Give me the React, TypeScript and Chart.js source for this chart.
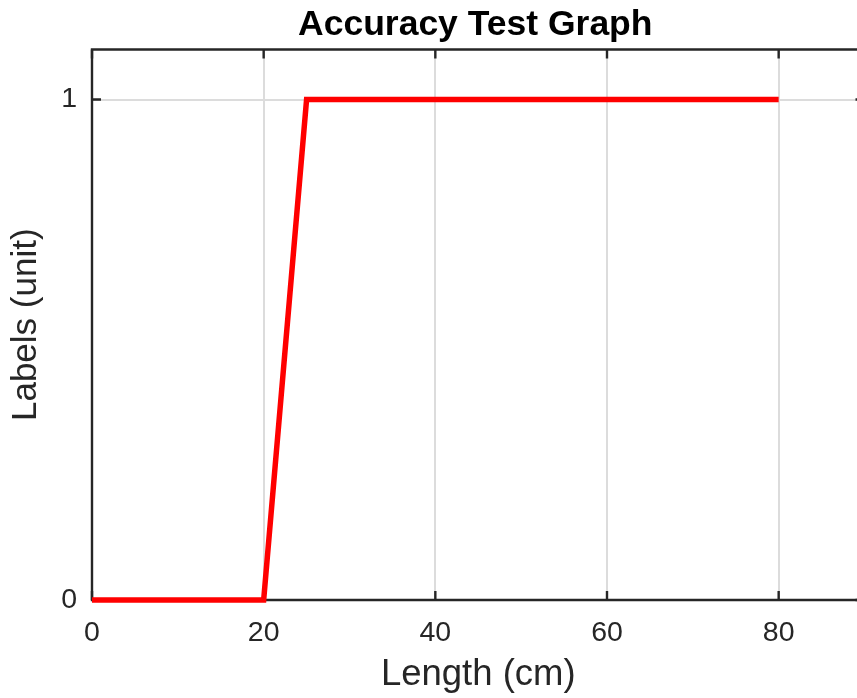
import React, { useEffect, useRef } from "react";
import { Chart, registerables } from "chart.js";

Chart.register(...registerables);

const titleText = "Accuracy Test Graph";
const xLabel = "Length (cm)";
const yLabel = "Labels (unit)";
const xValues = [0, 20, 25, 80];
const yValues = [0, 0, 1, 1];
const xTicks = [0, 20, 40, 60, 80];
const yTicks = [0, 1];
const xRange = [0, 90];
const yRange = [0, 1.1];

const FONT = "'Liberation Sans', Arial, Helvetica, sans-serif";
const TEXT = "#262626";
const AXIS = "#262626";

const boxPlugin = {
  id: "boxPlugin",
  beforeDatasetsDraw(chart: any) {
    const { ctx, chartArea } = chart;
    const { left, right, top, bottom } = chartArea;
    const xs = chart.scales.x;
    const ys = chart.scales.y;
    const tl = 9;
    ctx.save();
    ctx.strokeStyle = AXIS;
    ctx.lineWidth = 2.4;
    ctx.lineCap = "butt";
    ctx.beginPath();
    for (const v of xTicks) {
      const p = xs.getPixelForValue(v);
      ctx.moveTo(p, bottom);
      ctx.lineTo(p, bottom - tl);
      ctx.moveTo(p, top);
      ctx.lineTo(p, top + tl);
    }
    for (const v of yTicks) {
      const p = ys.getPixelForValue(v);
      ctx.moveTo(left, p);
      ctx.lineTo(left + tl, p);
      ctx.moveTo(right, p);
      ctx.lineTo(right - tl, p);
    }
    ctx.stroke();
    ctx.beginPath();
    ctx.lineJoin = "miter";
    ctx.rect(left, top, right - left, bottom - top);
    ctx.stroke();
    ctx.restore();
  },
  afterDraw(chart: any) {
    const { ctx, chartArea } = chart;
    ctx.save();
    ctx.fillStyle = "#000000";
    ctx.font = `bold 35.5px ${FONT}`;
    ctx.textAlign = "center";
    ctx.textBaseline = "alphabetic";
    ctx.fillText(titleText, (chartArea.left + chartArea.right) / 2 - 3, 35);
    ctx.restore();
  },
};

export default function App() {
  const ref = useRef<HTMLCanvasElement | null>(null);
  useEffect(() => {
    if (!ref.current) return;
    const chart = new Chart(ref.current, {
      type: "line",
      data: {
        datasets: [
          {
            data: xValues.map((x, i) => ({ x, y: yValues[i] })),
            borderColor: "#ff0000",
            backgroundColor: "#ff0000",
            borderWidth: 5.5,
            pointRadius: 0,
            tension: 0,
            fill: false,
            borderJoinStyle: "miter",
            borderCapStyle: "butt",
            clip: 10,
          } as any,
        ],
      },
      options: {
        animation: false,
        responsive: false,
        devicePixelRatio: 1,
        layout: { padding: { left: 0, right: 15.5, top: 49.5, bottom: 0 } },
        plugins: {
          legend: { display: false },
          tooltip: { enabled: false },
          title: { display: false },
        },
        scales: {
          x: {
            type: "linear",
            min: xRange[0],
            max: xRange[1],
            afterBuildTicks: (s: any) => {
              s.ticks = xTicks.map((v) => ({ value: v }));
            },
            afterFit: (s: any) => {
              s.height = 98;
            },
            ticks: {
              color: TEXT,
              font: { family: FONT, size: 28.5 },
              padding: 16,
              maxRotation: 0,
              autoSkip: false,
              callback: (v: any) => String(v),
            },
            grid: { color: "#dcdcdc", lineWidth: 2, drawTicks: false },
            border: { display: false },
            title: {
              display: true,
              text: xLabel,
              color: TEXT,
              font: { family: FONT, size: 36.5, lineHeight: 1.2 },
              padding: { top: 0, bottom: 1.5 },
            },
          },
          y: {
            type: "linear",
            min: yRange[0],
            max: yRange[1],
            afterBuildTicks: (s: any) => {
              s.ticks = yTicks.map((v) => ({ value: v }));
            },
            afterFit: (s: any) => {
              s.width = 92;
            },
            ticks: {
              color: TEXT,
              font: { family: FONT, size: 28.5 },
              padding: 15,
              autoSkip: false,
              callback: (v: any) => String(v),
            },
            grid: { color: "#dcdcdc", lineWidth: 2, drawTicks: false },
            border: { display: false },
            title: {
              display: true,
              text: yLabel,
              color: TEXT,
              font: { family: FONT, size: 35, lineHeight: 1.2 },
              padding: { top: 5, bottom: 0 },
            },
          },
        },
      },
      plugins: [boxPlugin],
    });
    return () => chart.destroy();
  }, []);

  return (
    <div
      style={{
        position: "fixed",
        left: 0,
        top: 0,
        width: 857,
        height: 698,
        overflow: "hidden",
        background: "#ffffff",
      }}
    >
      <canvas ref={ref} width={880} height={698} style={{ display: "block" }} />
    </div>
  );
}
